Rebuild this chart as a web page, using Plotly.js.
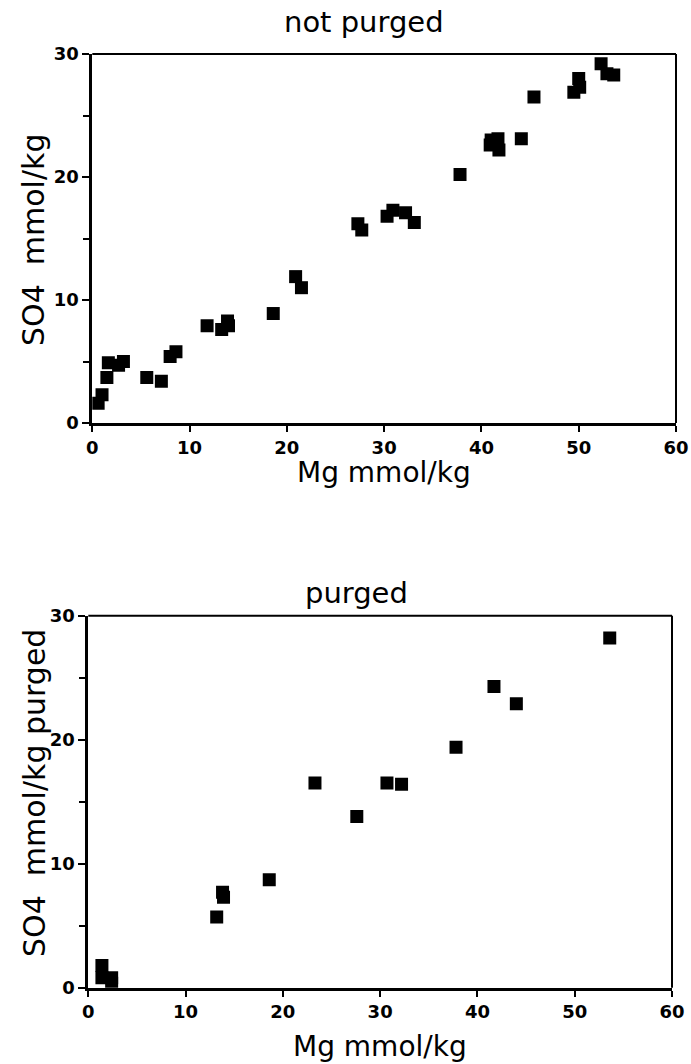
<!DOCTYPE html>
<html>
<head>
<meta charset="utf-8">
<script src="https://cdn.plot.ly/plotly-3.0.1.min.js"></script>
<style>html,body{margin:0;padding:0;background:#fff;}#chart{width:691px;height:1064px;}</style>
</head>
<body>
<div id="chart"></div>
<script>
// Top panel: not purged
const mgNotPurged  = [0.6, 1.0, 1.5, 1.65, 2.7, 3.2, 5.6, 7.1, 8.0, 8.6, 11.8, 13.3, 13.9, 14.0, 18.6, 20.9, 21.5, 27.3, 27.7, 30.3, 30.9, 32.2, 33.1, 37.8, 40.9, 41.0, 41.7, 41.8, 44.1, 45.4, 49.5, 50.0, 50.1, 52.3, 52.9, 53.6];
const so4NotPurged = [1.6, 2.3, 3.7, 4.9, 4.7, 5.0, 3.7, 3.4, 5.4, 5.8, 7.9, 7.6, 8.3, 7.9, 8.9, 11.9, 11.0, 16.2, 15.7, 16.8, 17.3, 17.1, 16.3, 20.2, 22.6, 23.0, 23.1, 22.2, 23.1, 26.5, 26.9, 28.0, 27.3, 29.2, 28.4, 28.3];
// Bottom panel: purged
const mgPurged  = [1.4, 1.4, 2.4, 2.4, 13.2, 13.8, 13.9, 18.6, 23.3, 27.6, 30.7, 32.2, 37.8, 41.7, 44.0, 53.6];
const so4Purged = [1.8, 0.8, 0.8, 0.35, 5.7, 7.7, 7.3, 8.7, 16.5, 13.8, 16.5, 16.4, 19.4, 24.3, 22.9, 28.2];

const xTicks = [0, 10, 20, 30, 40, 50, 60];
const yTicks = [0, 10, 20, 30];
const panelTitles = ["not purged", "purged"];
const xTitle = "Mg mmol/kg";
const yTitles = ["SO4  mmol/kg", "SO4  mmol/kg purged"];

const W = 691, H = 1064;
const FONT = "DejaVu Sans, Liberation Sans, sans-serif";
const marker = {symbol: "square", size: 13, color: "#000"};

const traces = [
  {x: mgNotPurged, y: so4NotPurged, type: "scatter", mode: "markers", marker: marker, xaxis: "x", yaxis: "y", hoverinfo: "x+y"},
  {x: mgPurged, y: so4Purged, type: "scatter", mode: "markers", marker: marker, xaxis: "x2", yaxis: "y2", hoverinfo: "x+y"}
];

function xAxis(domain, anchor) {
  return {
    domain: domain, anchor: anchor, range: [0, 60],
    tickvals: xTicks, ticktext: xTicks.map(String),
    ticks: "outside", ticklen: 6, tickwidth: 2, tickcolor: "#000",
    showline: true, linewidth: 3, linecolor: "#000", mirror: false,
    showgrid: false, zeroline: false, automargin: false,
    tickfont: {family: FONT, size: 18, color: "#000", weight: "bold"}
  };
}
function yAxis(domain, anchor) {
  return {
    domain: domain, anchor: anchor, range: [0, 30],
    tickvals: yTicks, ticktext: yTicks.map(String),
    ticks: "outside", ticklen: 7, tickwidth: 2, tickcolor: "#000",
    minor: {dtick: 5, ticks: "outside", ticklen: 6, tickwidth: 2, tickcolor: "#000", showgrid: false},
    showline: true, linewidth: 3, linecolor: "#000", mirror: false,
    showgrid: false, zeroline: false, automargin: false,
    tickfont: {family: FONT, size: 18, color: "#000", weight: "bold"}
  };
}

const frame = (xr, yr) => [
  {type: "line", xref: xr + " domain", yref: yr + " domain", x0: 0, x1: 1, y0: 1, y1: 1, line: {color: "#000", width: 2}},
  {type: "line", xref: xr + " domain", yref: yr + " domain", x0: 1, x1: 1, y0: 0, y1: 1, line: {color: "#000", width: 2}}
];

const txt = (text, px, py, size, angle) => ({
  text: text, xref: "paper", yref: "paper", x: px / W, y: (H - py) / H,
  xanchor: "center", yanchor: "middle", showarrow: false, textangle: angle || 0,
  font: {family: FONT, size: size, color: "#000"}
});

const layout = {
  width: W, height: H,
  margin: {l: 0, r: 0, t: 0, b: 0},
  paper_bgcolor: "#fff", plot_bgcolor: "#fff",
  showlegend: false,
  font: {family: FONT, color: "#000"},
  xaxis: xAxis([92.3 / W, 676 / W], "y"),
  yaxis: yAxis([(H - 423) / H, (H - 54) / H], "x"),
  xaxis2: xAxis([88.3 / W, 672 / W], "y2"),
  yaxis2: yAxis([(H - 987.7) / H, (H - 615.7) / H], "x2"),
  shapes: frame("x", "y").concat(frame("x2", "y2")),
  annotations: [
    txt(panelTitles[0], 364, 22, 29),
    txt(panelTitles[1], 357, 593, 29),
    txt(xTitle, 384, 472, 28),
    txt(xTitle, 380, 1046, 28),
    txt(yTitles[0], 33, 240, 30, -90),
    txt(yTitles[1], 34, 793, 30, -90)
  ]
};

Plotly.newPlot("chart", traces, layout, {displayModeBar: false, staticPlot: true});
</script>
</body>
</html>
